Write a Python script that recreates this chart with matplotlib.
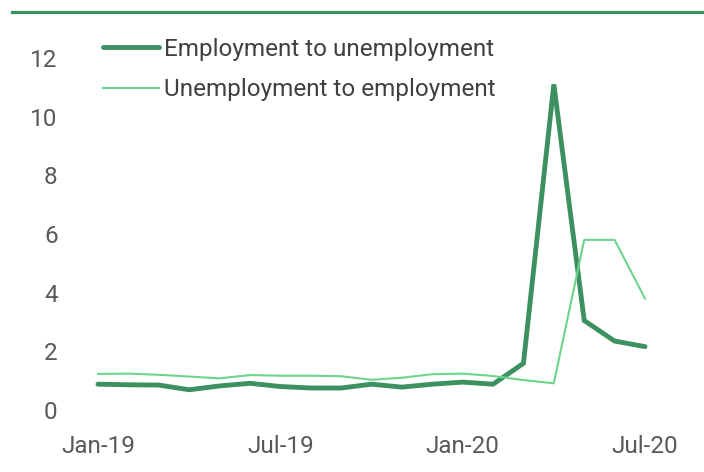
import matplotlib
matplotlib.use("Agg")
import matplotlib.pyplot as plt
from matplotlib.lines import Line2D

months = ["Jan-19", "Feb-19", "Mar-19", "Apr-19", "May-19", "Jun-19", "Jul-19",
          "Aug-19", "Sep-19", "Oct-19", "Nov-19", "Dec-19", "Jan-20", "Feb-20",
          "Mar-20", "Apr-20", "May-20", "Jun-20", "Jul-20"]
emp_to_unemp = [0.88, 0.86, 0.85, 0.69, 0.82, 0.91, 0.80, 0.75, 0.75, 0.88,
                0.78, 0.88, 0.95, 0.88, 1.59, 11.1, 3.05, 2.35, 2.16]
unemp_to_emp = [1.23, 1.24, 1.20, 1.14, 1.08, 1.19, 1.17, 1.17, 1.15, 1.03,
                1.10, 1.22, 1.24, 1.16, 1.02, 0.91, 5.8, 5.8, 3.8]
tick_labels = ["Jan-19", "Jul-19", "Jan-20", "Jul-20"]
y_ticks = [0, 2, 4, 6, 8, 10, 12]

dark = "#3d9160"
light = "#6dd48e"
txt = "#595959"

plt.rcParams['font.family'] = ['Roboto', 'DejaVu Sans']

W, H = 704, 472
fig = plt.figure(figsize=(W / 100, H / 100), dpi=100)
ax = fig.add_axes([98 / W, 1 - 410 / H, (645 - 98) / W, (410 - 58) / H])

x = list(range(len(months)))
ax.plot(x, emp_to_unemp, color=dark, lw=3.5, solid_capstyle='round',
        solid_joinstyle='miter', clip_on=False, label="Employment to unemployment")
ax.plot(x, unemp_to_emp, color=light, lw=1.5, clip_on=False,
        label="Unemployment to employment")

ax.set_xlim(0, len(months) - 1)
ax.set_ylim(0, 12)
ax.set_yticks(y_ticks)
ax.set_yticklabels([str(v) for v in y_ticks])
ax.set_xticks([months.index(t) for t in tick_labels])
ax.set_xticklabels(tick_labels)
ax.tick_params(axis='both', length=0, labelsize=17.5, colors=txt)
ax.tick_params(axis='y', pad=29)
ax.tick_params(axis='x', pad=18)
for s in ax.spines.values():
    s.set_visible(False)

handles = [Line2D([], [], color=dark, lw=3.5, solid_capstyle='round'),
           Line2D([], [], color=light, lw=1.5)]
leg = fig.legend(handles, ["Employment to unemployment", "Unemployment to employment"],
                 loc='upper left', bbox_to_anchor=(103 / W, 1 - 38 / H),
                 bbox_transform=fig.transFigure,
                 frameon=False, fontsize=17.5, handlelength=2.3, handletextpad=0.2,
                 labelspacing=0.7, borderaxespad=0, borderpad=0)
for t in leg.get_texts():
    t.set_color("#404040")

fig.add_artist(Line2D([12 / W, 1], [1 - 11.5 / H, 1 - 11.5 / H], color=dark, lw=2.3,
                      transform=fig.transFigure))

fig.savefig("out.png", dpi=100)
